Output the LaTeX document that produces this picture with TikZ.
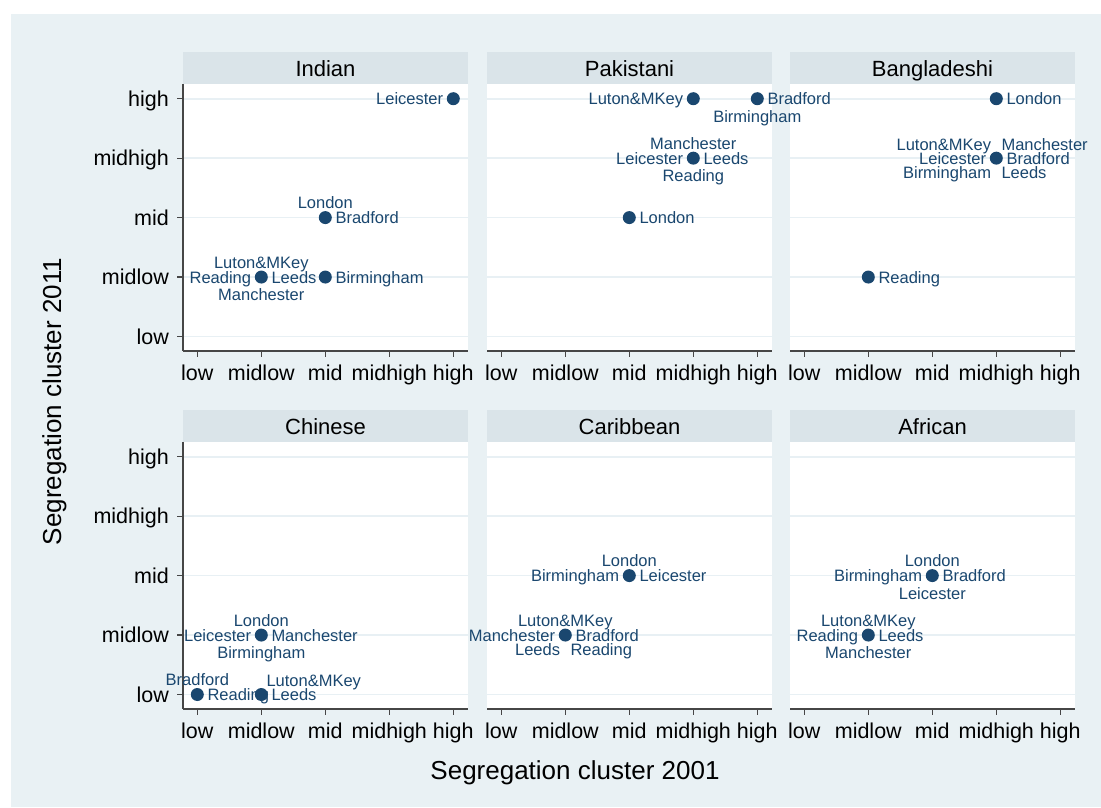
\documentclass[tikz,border=0pt]{standalone}
\usepackage{fontspec}
\setmainfont{Liberation Sans}
\definecolor{navy}{RGB}{26,71,111}
\definecolor{bgc}{RGB}{233,241,244}
\definecolor{hdr}{RGB}{218,228,233}
\definecolor{gridc}{RGB}{232,240,244}
\definecolor{axc}{RGB}{70,70,70}
\begin{document}
\begin{tikzpicture}[x=1pt,y=-1pt,
  dot/.style={circle,fill=navy,inner sep=0pt,minimum size=13pt},
  lab/.style={text=navy,font=\fontsize{16.5}{16.5}\selectfont,inner sep=0pt},
  ticklab/.style={font=\fontsize{21.5}{21.5}\selectfont,inner sep=0pt},
  ttl/.style={font=\fontsize{22}{22}\selectfont,inner sep=0pt,anchor=base},
  axt/.style={font=\fontsize{26}{26}\selectfont,inner sep=0pt},
  axl/.style={draw=axc,line width=1.2pt},
  grd/.style={draw=gridc,line width=1.6pt},
  pW/.style={lab,anchor=base east,xshift=-10pt,yshift=-6pt},
  pE/.style={lab,anchor=base west,xshift=10pt,yshift=-6pt},
  pN/.style={lab,anchor=base,yshift=9pt},
  pS/.style={lab,anchor=base,yshift=-23.5pt},
  pNW/.style={lab,anchor=base east,xshift=-5pt,yshift=7.5pt},
  pNE/.style={lab,anchor=base west,xshift=5pt,yshift=8pt},
  pSW/.style={lab,anchor=base east,xshift=-5pt,yshift=-20pt},
  pSE/.style={lab,anchor=base west,xshift=5pt,yshift=-20pt}]
\useasboundingbox (0,0) rectangle (1101,807);
\fill[white] (0,0) rectangle (1101,807);
\fill[bgc] (11,14) rectangle (1101,807);

\newcommand\mypanel[4]{%
  \fill[hdr] (#2,#3) rectangle ++(285,32);
  \node[ttl] (#1-title) at (#2+142.5,#3+24) {#4};
  \fill[white] (#2,#3+32) rectangle ++(285,267);
  \foreach \j in {0,...,4} \draw[grd] (#2,{#3+46.7+59.45*\j}) -- ++(285,0);
  \draw[axl] (#2,#3+299) -- ++(285,0);
  \foreach \i/\t in {0/low,1/midlow,2/mid,3/midhigh,4/high} {
    \draw[axl] ({#2+14.3+64*\i},#3+299) -- ++(0,6);
    \node[ticklab,anchor=base] (#1-x\i) at ({#2+14.3+64*\i},#3+328) {\t};
  }
}
\newcommand\myyaxis[2]{%
  \draw[axl] (183,#1+32) -- (183,#1+299);
  \foreach \j/\t in {0/high,1/midhigh,2/mid,3/midlow,4/low} {
    \draw[axl] (177,{#1+46.7+59.45*\j}) -- (183,{#1+46.7+59.45*\j});
    \node[ticklab,anchor=base east] (#2-y\j) at (169,{#1+54.2+59.45*\j}) {\t};
  }
}

\mypanel{ind}{183}{52}{Indian}
\mypanel{pak}{487}{52}{Pakistani}
\mypanel{ban}{790}{52}{Bangladeshi}
\mypanel{chi}{183}{410}{Chinese}
\mypanel{car}{487}{410}{Caribbean}
\mypanel{afr}{790}{410}{African}
\myyaxis{52}{top}
\myyaxis{410}{bot}

% data coordinates
\coordinate (i1) at (453.3,98.7);
\coordinate (i2) at (325.3,217.6);
\coordinate (i3) at (325.3,277.05);
\coordinate (i4) at (261.3,277.05);
\coordinate (p1) at (693.3,98.7);
\coordinate (p2) at (757.3,98.7);
\coordinate (p3) at (693.3,158.15);
\coordinate (p4) at (629.3,217.6);
\coordinate (b1) at (996.3,98.7);
\coordinate (b2) at (996.3,158.15);
\coordinate (b3) at (868.3,277.05);
\coordinate (c1) at (261.3,635.05);
\coordinate (c2) at (197.3,694.5);
\coordinate (c3) at (261.3,694.5);
\coordinate (r1) at (629.3,575.6);
\coordinate (r2) at (565.3,635.05);
\coordinate (a1) at (932.3,575.6);
\coordinate (a2) at (868.3,635.05);

% labels
\node[pW] (i1a) at (i1) {Leicester};
\node[pN] (i2a) at (i2) {London};
\node[pE] (i2b) at (i2) {Bradford};
\node[pE] (i3a) at (i3) {Birmingham};
\node[pN] (i4a) at (i4) {Luton\&MKey};
\node[pW] (i4b) at (i4) {Reading};
\node[pE] (i4c) at (i4) {Leeds};
\node[pS] (i4d) at (i4) {Manchester};

\node[pW] (p1a) at (p1) {Luton\&MKey};
\node[pE] (p2a) at (p2) {Bradford};
\node[pS] (p2b) at (p2) {Birmingham};
\node[pN] (p3a) at (p3) {Manchester};
\node[pW] (p3b) at (p3) {Leicester};
\node[pE] (p3c) at (p3) {Leeds};
\node[pS] (p3d) at (p3) {Reading};
\node[pE] (p4a) at (p4) {London};

\node[pE] (b1a) at (b1) {London};
\node[pNW] (b2a) at (b2) {Luton\&MKey};
\node[pNE] (b2b) at (b2) {Manchester};
\node[pW] (b2c) at (b2) {Leicester};
\node[pE] (b2d) at (b2) {Bradford};
\node[pSW] (b2e) at (b2) {Birmingham};
\node[pSE] (b2f) at (b2) {Leeds};
\node[pE] (b3a) at (b3) {Reading};

\node[pN] (c1a) at (c1) {London};
\node[pW] (c1b) at (c1) {Leicester};
\node[pE] (c1c) at (c1) {Manchester};
\node[pS] (c1d) at (c1) {Birmingham};
\node[pN] (c2a) at (c2) {Bradford};
\node[pE] (c2b) at (c2) {Reading};
\node[pNE] (c3a) at (c3) {Luton\&MKey};
\node[pE] (c3b) at (c3) {Leeds};

\node[pN] (r1a) at (r1) {London};
\node[pW] (r1b) at (r1) {Birmingham};
\node[pE] (r1c) at (r1) {Leicester};
\node[pN] (r2a) at (r2) {Luton\&MKey};
\node[pW] (r2b) at (r2) {Manchester};
\node[pE] (r2c) at (r2) {Bradford};
\node[pSW] (r2d) at (r2) {Leeds};
\node[pSE] (r2e) at (r2) {Reading};

\node[pN] (a1a) at (a1) {London};
\node[pW] (a1b) at (a1) {Birmingham};
\node[pE] (a1c) at (a1) {Bradford};
\node[pS] (a1d) at (a1) {Leicester};
\node[pN] (a2a) at (a2) {Luton\&MKey};
\node[pW] (a2b) at (a2) {Reading};
\node[pE] (a2c) at (a2) {Leeds};
\node[pS] (a2d) at (a2) {Manchester};

% markers
\foreach \p in {i1,i2,i3,i4,p1,p2,p3,p4,b1,b2,b3,c1,c2,c3,r1,r2,a1,a2}
  \node[dot] (\p-dot) at (\p) {};

% axis titles
\node[axt,anchor=base] (xtitle) at (575,779) {Segregation cluster 2001};
\node[axt,rotate=90,anchor=base] (ytitle) at (61,401.5) {Segregation cluster 2011};
\end{tikzpicture}
\end{document}
